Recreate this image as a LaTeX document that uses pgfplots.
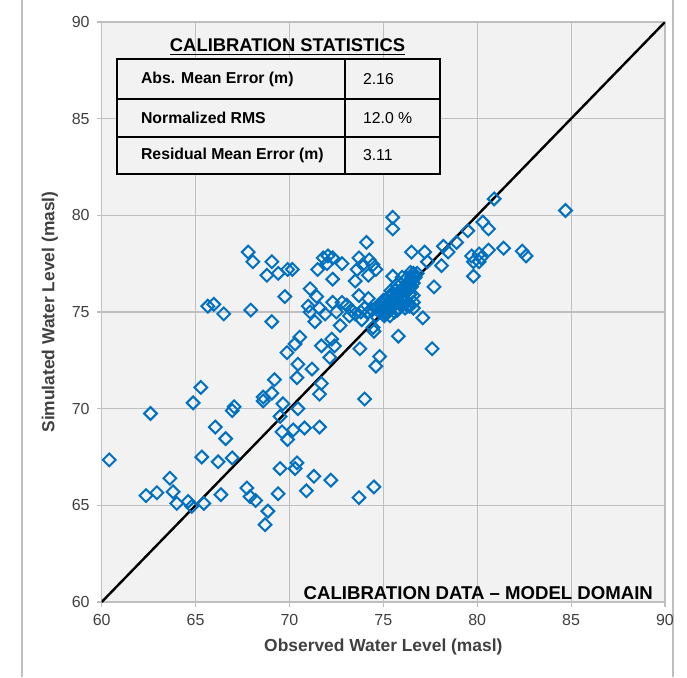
\documentclass[border=0pt]{standalone}
\usepackage{fontspec}
\setmainfont{Liberation Sans}
\usepackage{pgfplots}
\pgfplotsset{compat=1.18}
\usepackage{pgfplotstable}
\definecolor{ptblue}{RGB}{0,112,192}
\definecolor{plotbg}{RGB}{242,242,242}
\definecolor{gridc}{RGB}{191,191,191}
\definecolor{txtc}{RGB}{64,64,64}

\pgfplotstableread{
obs sim
60.40 67.35
62.36 65.50
62.94 65.65
62.60 69.75
63.63 66.40
63.80 65.70
64.00 65.10
64.60 65.20
64.80 64.95
64.87 70.30
65.28 71.10
65.33 67.50
65.44 65.10
65.65 75.30
65.97 75.40
66.05 69.05
66.20 67.25
66.35 65.55
66.50 74.90
66.60 68.45
66.95 67.45
66.95 69.90
67.05 70.10
67.73 65.90
67.80 78.10
67.90 65.45
67.94 75.10
68.05 77.60
68.20 65.25
68.60 70.60
68.60 70.40
68.70 64.00
68.80 76.90
68.85 64.70
69.06 77.60
69.06 74.50
69.06 70.80
69.20 71.50
69.40 77.00
69.40 65.60
69.50 66.90
69.50 69.60
69.60 68.80
69.65 70.25
69.75 75.80
69.87 72.90
69.90 77.20
69.90 68.40
70.15 77.20
70.20 68.90
70.30 73.35
70.30 66.90
70.40 67.20
70.45 70.00
70.45 72.30
70.40 71.60
70.55 73.70
70.80 69.00
70.90 65.75
71.00 75.30
71.10 75.00
71.10 76.20
71.20 72.05
71.30 66.50
71.35 74.50
71.45 75.80
71.50 77.20
71.60 70.75
71.60 69.05
71.60 75.20
71.70 73.25
71.70 71.30
71.80 77.80
71.90 74.90
72.00 77.50
72.05 77.90
72.15 72.65
72.20 66.30
72.25 73.60
72.30 77.80
72.30 76.70
72.30 75.50
72.40 73.25
72.50 75.00
72.70 74.30
72.80 77.50
72.80 75.50
73.05 75.35
73.20 74.80
73.50 76.60
73.60 77.20
73.70 77.80
73.70 75.85
73.70 65.40
73.75 73.10
73.85 74.60
73.90 77.45
74.00 70.50
74.10 78.60
74.20 76.90
74.20 75.70
74.25 77.70
74.45 77.45
74.45 74.20
74.50 74.00
74.50 65.95
74.60 77.20
74.60 74.80
74.60 72.20
74.80 72.70
74.70 75.30
75.35 74.80
75.50 79.90
75.50 79.30
75.50 76.85
75.80 73.75
76.50 78.10
76.60 75.85
76.15 75.20
76.40 75.30
76.60 75.20
77.10 74.70
77.20 78.10
77.35 77.60
77.60 73.10
77.70 76.30
78.10 77.40
78.20 78.40
78.45 78.10
78.90 78.60
79.50 79.20
79.70 77.90
79.80 76.85
79.80 77.60
80.10 78.00
80.20 77.80
80.10 77.60
80.30 79.65
80.60 79.30
80.60 78.20
80.90 80.85
81.40 78.30
82.40 78.15
82.60 77.90
84.70 80.25
74.80 75.00
75.00 75.20
75.10 74.90
75.20 75.40
75.30 75.10
75.40 75.60
75.50 75.30
75.60 75.80
75.60 75.00
75.70 75.50
75.80 76.00
75.80 75.20
75.90 75.70
76.00 76.20
76.00 75.40
76.10 75.90
76.20 76.40
76.20 75.60
76.30 76.10
76.40 76.60
76.40 75.90
76.50 76.80
76.50 76.30
76.60 77.00
76.60 76.50
76.70 76.80
76.80 77.00
75.30 75.80
75.00 75.60
74.90 75.40
74.60 75.20
74.40 75.10
74.20 75.00
74.00 75.20
73.80 75.00
73.50 74.90
73.30 75.10
76.00 76.80
75.70 76.40
75.40 76.10
76.30 75.30
76.60 75.50
75.15 75.65
75.45 75.85
75.65 76.15
75.95 76.45
76.25 76.75
76.45 77.05
75.25 75.00
75.55 75.55
75.85 75.85
76.15 76.15
76.35 76.35
76.55 76.65
75.05 74.80
74.95 75.15
75.75 75.10
}\calib

\begin{document}
\begin{tikzpicture}
\path[use as bounding box] (0,0) rectangle (343.5pt,338.5pt);
\draw[gridc, line width=0.6pt] (11pt,0) -- (11pt,338.5pt);
\draw[gridc, line width=0.6pt] (336.5pt,0) -- (336.5pt,338.5pt);
\begin{axis}[
  at={(50.85pt,37.5pt)}, anchor=south west,
  scale only axis, width=281.65pt, height=290pt,
  xmin=60, xmax=90, ymin=60, ymax=90,
  xtick={60,65,...,90}, ytick={60,65,...,90},
  axis background/.style={fill=plotbg},
  grid=major, major grid style={gridc, line width=0.6pt},
  axis line style={gridc, line width=0.6pt},
  tick align=outside, major tick length=2.5pt,
  tick style={gridc, line width=0.6pt},
  xtick pos=left, ytick pos=left,
  ticklabel style={font=\fontsize{8}{9}\selectfont, text=txtc},
  /pgf/number format/assume math mode=true,
  xlabel={Observed Water Level (masl)},
  ylabel={Simulated Water Level (masl)},
  label style={font=\bfseries\fontsize{8.7}{10}\selectfont, text=txtc},
]
\addplot[only marks, mark=square, mark size=2.25pt,
  mark options={draw=ptblue, line width=1pt, rotate=45, fill=none}]
  table[x=obs, y=sim] {\calib};
\addplot[black, line width=1.2pt] coordinates {(60,60) (90,90)};
\end{axis}
\begin{scope}[x=0.5pt, y=-0.5pt, yshift=338.5pt]
  \fill[plotbg] (116.7,59.3) rectangle (440,174.3);
  \draw[line width=1.1pt] (116.7,59.3) rectangle (440,174.3);
  \draw[line width=1.1pt] (116.7,99) -- (440,99);
  \draw[line width=1.1pt] (116.7,136.7) -- (440,136.7);
  \draw[line width=1.1pt] (345,59.3) -- (345,174.3);
  \node[font=\bfseries\fontsize{9.2}{10}\selectfont] at (287.5,47) {\underline{CALIBRATION STATISTICS}};
  \node[anchor=west, font=\bfseries\fontsize{7.9}{9}\selectfont] at (134,79) {Abs. Mean Error (m)};
  \node[anchor=west, font=\bfseries\fontsize{7.9}{9}\selectfont] at (134,118) {Normalized RMS};
  \node[anchor=west, font=\bfseries\fontsize{7.9}{9}\selectfont] at (134,155.5) {Residual Mean Error (m)};
  \node[anchor=west, font=\fontsize{7.9}{9}\selectfont] at (356,79) {2.16};
  \node[anchor=west, font=\fontsize{7.9}{9}\selectfont] at (356,118) {12.0 \%};
  \node[anchor=west, font=\fontsize{7.9}{9}\selectfont] at (356,155.5) {3.11};
  \node[anchor=east, font=\bfseries\fontsize{9.3}{10}\selectfont, text=black] at (660,593) {CALIBRATION DATA -- MODEL DOMAIN};
\end{scope}
\end{tikzpicture}
\end{document}
